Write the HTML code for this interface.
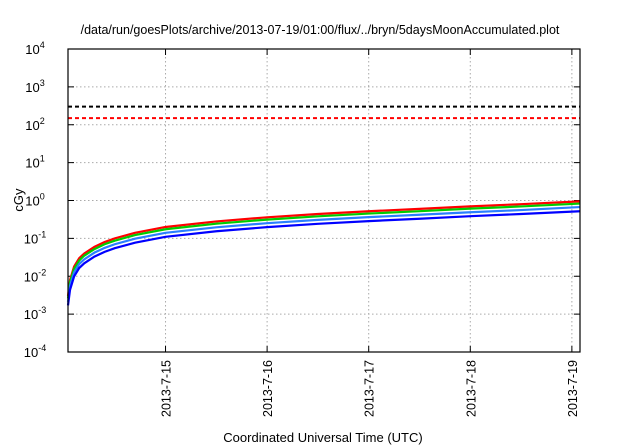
<!DOCTYPE html>
<html><head><meta charset="utf-8"><style>
body{margin:0;background:#fff;}
svg{display:block;font-family:"Liberation Sans",sans-serif;}
</style></head><body>
<svg id="chart" width="640" height="448"></svg>
<script>
const days=[0.04,0.06,0.1,0.15,0.2,0.3,0.4,0.5,0.7,1.0,1.5,2.0,2.5,3.0,3.5,4.0,4.5,5.08];
const redVals=[0.003,0.008,0.018,0.03,0.04,0.06,0.08,0.10,0.14,0.20,0.28,0.36,0.44,0.52,0.60,0.70,0.80,0.95];
const greenVals=[0.0026,0.007,0.0157,0.026,0.035,0.052,0.07,0.087,0.122,0.174,0.244,0.313,0.383,0.452,0.522,0.609,0.696,0.83];
const lightBlueVals=[0.0021,0.0056,0.0126,0.021,0.028,0.042,0.056,0.07,0.098,0.14,0.196,0.252,0.308,0.364,0.42,0.49,0.56,0.67];
const blueVals=[0.0017,0.0044,0.0099,0.0165,0.022,0.033,0.044,0.055,0.077,0.11,0.154,0.198,0.242,0.286,0.33,0.385,0.44,0.52];
const thresholds=[300,150];
const xTickDays=[1,2,3,4,5];
const xTickLabels=["2013-7-15","2013-7-16","2013-7-17","2013-7-18","2013-7-19"];
const yExps=[-4,-3,-2,-1,0,1,2,3,4];

const L=68,R=580,T=49,B=352,X0=0.04,X1=5.08;
const sx=d=>L+(d-X0)/(X1-X0)*(R-L);
const sy=v=>B-(Math.log10(v)+4)/8*(B-T);
const svg=document.getElementById('chart');
const NS='http://www.w3.org/2000/svg';
function mk(tag,attrs,parent){const e=document.createElementNS(NS,tag);for(const k in attrs)e.setAttribute(k,attrs[k]);(parent||svg).appendChild(e);return e;}

const title=mk('text',{x:320,y:34,'text-anchor':'middle','font-size':12.5});
title.textContent='/data/run/goesPlots/archive/2013-07-19/01:00/flux/../bryn/5daysMoonAccumulated.plot';



yExps.forEach(e=>{
  const y=sy(Math.pow(10,e));
  if(e>-4&&e<4){const g=mk('line',{x1:L,x2:R,y1:y,y2:y,stroke:'#aaa','stroke-dasharray':'1.5,2.5','stroke-width':1});
  
  mk('line',{x1:L,x2:L+6,y1:y,y2:y,stroke:'#000'});mk('line',{x1:R-6,x2:R,y1:y,y2:y,stroke:'#000'});}
  const t=mk('text',{x:L-33,y:y+5,'text-anchor':'middle','font-size':13});
  
  t.textContent='10';
  const s=mk('tspan',{dy:-6,'font-size':9},t);s.textContent=String(e);
});
xTickDays.forEach((d,i)=>{
  const x=sx(d);
  const g=mk('line',{x1:x,x2:x,y1:T,y2:B,stroke:'#aaa','stroke-dasharray':'1.5,2.5','stroke-width':1});
  
  mk('line',{x1:x,x2:x,y1:B-6,y2:B,stroke:'#000'});mk('line',{x1:x,x2:x,y1:T,y2:T+6,stroke:'#000'});
  const t=mk('text',{x:0,y:0,'text-anchor':'end','font-size':12.5,transform:`translate(${x+5},${B+8}) rotate(-90)`});
  
  t.textContent=xTickLabels[i];
});
const tc=['#000','#f00'];
thresholds.forEach((v,i)=>{
  const l=mk('line',{x1:L,x2:R,y1:sy(v),y2:sy(v),stroke:tc[i],'stroke-width':2,'stroke-dasharray':'4,3'});
  
});
const series=[[redVals,'#f00','series-red'],[greenVals,'#0c0','series-green'],[lightBlueVals,'#2a7fff','series-light-blue'],[blueVals,'#00f','series-blue']];
series.forEach(([vals,c,n])=>{
  const p=mk('polyline',{points:days.map((d,i)=>sx(d)+','+sy(vals[i])).join(' '),fill:'none',stroke:c,'stroke-width':2.2});
  
});
const f=mk('rect',{x:L,y:T,width:R-L,height:B-T,fill:'none',stroke:'#000','stroke-width':1.2});

const yl=mk('text',{x:0,y:0,'text-anchor':'middle','font-size':13,transform:'translate(23,200) rotate(-90)'});
yl.textContent='cGy';
const xl=mk('text',{x:323,y:442,'text-anchor':'middle','font-size':13});
xl.textContent='Coordinated Universal Time (UTC)';
</script>
</body></html>
